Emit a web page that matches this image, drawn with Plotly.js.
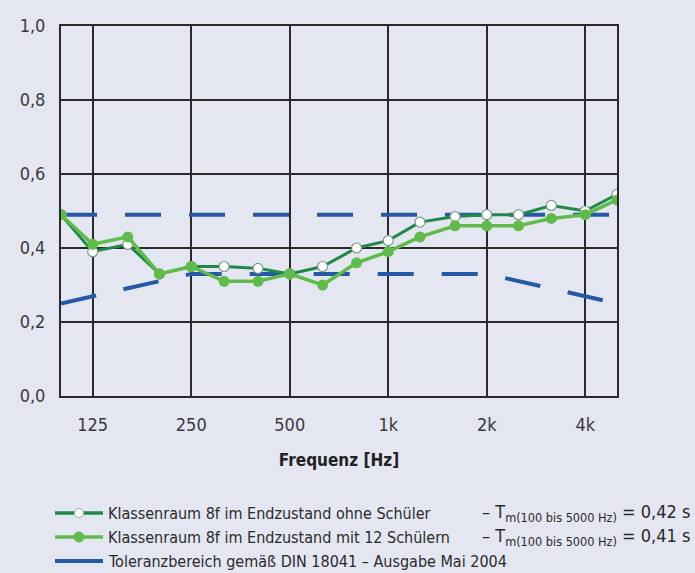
<!DOCTYPE html>
<html>
<head>
<meta charset="utf-8">
<script src="https://cdn.plot.ly/plotly-3.0.1.min.js"></script>
<style>html,body{margin:0;padding:0;background:#e4e7f1;}#chart{width:695px;height:573px;}</style>
</head>
<body>
<div id="chart"></div>
<script>
// Third-octave band centre frequencies (Hz)
const freqs = [100,125,160,200,250,315,400,500,630,800,1000,1250,1600,2000,2500,3150,4000,5000];
// Reverberation time (s) – classroom without pupils
const ohneSchueler = [0.49,0.39,0.41,0.33,0.35,0.35,0.345,0.33,0.35,0.40,0.42,0.47,0.485,0.49,0.49,0.515,0.50,0.545];
// Reverberation time (s) – classroom with 12 pupils
const mitSchuelern = [0.49,0.41,0.43,0.33,0.35,0.31,0.31,0.33,0.30,0.36,0.39,0.43,0.46,0.46,0.46,0.48,0.49,0.53];
// DIN 18041 tolerance band
const tolUpperFreq = [100,5000];
const tolUpper = [0.49,0.49];
const tolLowerFreq = [100,250,2000,5000];
const tolLower = [0.25,0.33,0.33,0.25];
// Axis ticks
const xTickVals = [125,250,500,1000,2000,4000];
const xTickText = ['125','250','500','1k','2k','4k'];
// Legend texts
const legendNames = [
  'Klassenraum 8f im Endzustand ohne Schüler',
  'Klassenraum 8f im Endzustand mit 12 Schülern',
  'Toleranzbereich gemäß DIN 18041 – Ausgabe Mai 2004'
];
const legendTm = [
  '– T<sub>m(100 bis 5000 Hz)</sub> = 0,42 s',
  '– T<sub>m(100 bis 5000 Hz)</sub> = 0,41 s'
];

const FONT = '"Liberation Sans Narrow", "DejaVu Sans Condensed", "Roboto Condensed", Roboto, sans-serif';
const darkGreen = '#1f8a47';
const lightGreen = '#5fbb4a';
const blue = '#2658a8';
const grid = '#2a2a2a';

const traces = [
  {x: tolUpperFreq, y: tolUpper, mode: 'lines', line: {color: blue, width: 4, dash: '36px,28px'}, showlegend: false, hoverinfo: 'skip'},
  {x: tolLowerFreq, y: tolLower, mode: 'lines', line: {color: blue, width: 4, dash: '36px,28px'}, showlegend: false, hoverinfo: 'skip'},
  {x: freqs, y: ohneSchueler, mode: 'lines+markers', name: legendNames[0],
   line: {color: darkGreen, width: 3},
   marker: {symbol: 'circle', size: 10, color: '#ffffff', line: {color: '#7f9a88', width: 1.2}}, showlegend: false},
  {x: freqs, y: mitSchuelern, mode: 'lines+markers', name: legendNames[1],
   line: {color: lightGreen, width: 3.5},
   marker: {symbol: 'circle', size: 11, color: lightGreen}, showlegend: false}
];

const L = 61, R = 617, T = 26, B = 396;
const W = R - L, H = B - T;
const px = v => (v - L) / W;
const py = v => (B - v) / H;

const rows = [513, 537, 561];
const legColors = [darkGreen, lightGreen, blue];
const shapes = [];
const annotations = [];
rows.forEach((r, i) => {
  shapes.push({type: 'line', xref: 'paper', yref: 'paper', x0: px(55), x1: px(103), y0: py(r), y1: py(r),
    line: {color: legColors[i], width: i === 2 ? 4 : 3.5}});
  annotations.push({xref: 'paper', yref: 'paper', x: px(106), y: py(r), xanchor: 'left', yanchor: 'middle',
    text: legendNames[i], showarrow: false, font: {family: FONT, size: 16, color: '#2a2a2a'}});
  if (i < 2) {
    annotations.push({xref: 'paper', yref: 'paper', x: px(480), y: py(r), xanchor: 'left', yanchor: 'middle',
      text: legendTm[i], showarrow: false, font: {family: FONT, size: 18, color: '#2a2a2a'}});
  }
});
shapes.push({type: 'circle', xref: 'paper', yref: 'paper', xsizemode: 'pixel', ysizemode: 'pixel',
  xanchor: px(79), yanchor: py(rows[0]), x0: -4.5, x1: 4.5, y0: -4.5, y1: 4.5,
  fillcolor: '#ffffff', line: {color: '#9ab3a0', width: 1}});
shapes.push({type: 'circle', xref: 'paper', yref: 'paper', xsizemode: 'pixel', ysizemode: 'pixel',
  xanchor: px(79), yanchor: py(rows[1]), x0: -5, x1: 5, y0: -5, y1: 5,
  fillcolor: lightGreen, line: {color: lightGreen, width: 1}});

const layout = {
  width: 695, height: 573,
  margin: {l: L, r: 695 - R, t: T, b: 573 - B, pad: 0},
  paper_bgcolor: '#e4e7f1',
  plot_bgcolor: '#e4e7f1',
  separators: ',.',
  font: {family: FONT, size: 18, color: '#3a3a3a'},
  showlegend: false,
  xaxis: {
    type: 'log', range: [Math.log10(100), Math.log10(5000)],
    tickvals: xTickVals, ticktext: xTickText,
    showgrid: true, gridcolor: grid, gridwidth: 2,
    showline: true, mirror: true, linecolor: grid, linewidth: 2,
    ticks: '', zeroline: false, ticklabelstandoff: 11,
    tickfont: {family: FONT, size: 18, color: '#3a3a3a'},
    title: {text: '<b>Frequenz [Hz]</b>', standoff: 21, font: {family: FONT, size: 17, color: '#222'}}
  },
  yaxis: {
    range: [0, 1], tickvals: [0,0.2,0.4,0.6,0.8,1.0], tickformat: '.1f',
    showgrid: true, gridcolor: grid, gridwidth: 2,
    showline: true, mirror: true, linecolor: grid, linewidth: 2,
    ticks: '', zeroline: false, ticklabelstandoff: 10,
    tickfont: {family: FONT, size: 18, color: '#3a3a3a'}
  },
  shapes: shapes,
  annotations: annotations
};

Plotly.newPlot('chart', traces, layout, {staticPlot: true, displayModeBar: false});
</script>
</body>
</html>
